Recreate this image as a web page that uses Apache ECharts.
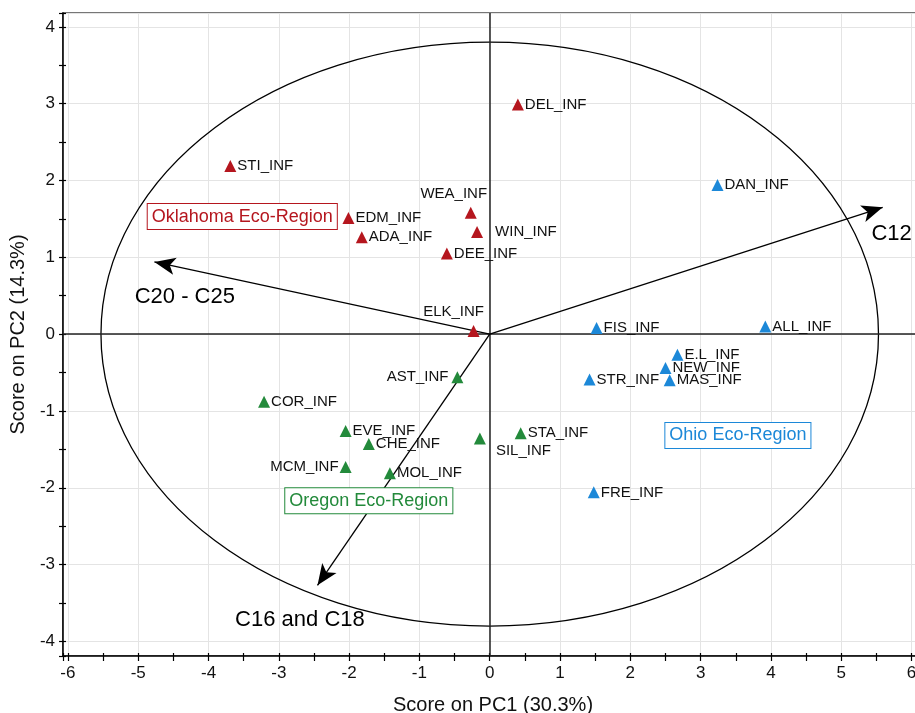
<!DOCTYPE html>
<html><head><meta charset="utf-8">
<script src="https://cdn.jsdelivr.net/npm/echarts@6/dist/echarts.min.js"></script>
<style>html,body{margin:0;padding:0;background:#fff}#c{width:915px;height:713px}</style>
</head><body><div id="c"></div>
<script>
// ---- data ----
const oklahomaNames = ['DEL_INF','STI_INF','EDM_INF','ADA_INF','WEA_INF','WIN_INF','DEE_INF','ELK_INF'];
const oklahomaX = [0.40,-3.69,-2.01,-1.82,-0.27,-0.18,-0.61,-0.23];
const oklahomaY = [2.99,2.19,1.51,1.26,1.58,1.33,1.05,0.04];

const ohioNames = ['DAN_INF','FIS_INF','ALL_INF','E.L_INF','NEW_INF','MAS_INF','STR_INF','FRE_INF'];
const ohioX = [3.24,1.52,3.92,2.67,2.50,2.56,1.42,1.48];
const ohioY = [1.94,0.08,0.10,-0.27,-0.44,-0.60,-0.59,-2.06];

const oregonNames = ['AST_INF','COR_INF','EVE_INF','CHE_INF','MCM_INF','MOL_INF','SIL_INF','STA_INF'];
const oregonX = [-0.46,-3.21,-2.05,-1.72,-2.05,-1.42,-0.14,0.44];
const oregonY = [-0.56,-0.88,-1.26,-1.43,-1.73,-1.81,-1.36,-1.29];

const loadingNames = ['C12','C20 - C25','C16 and C18'];
const loadingX = [5.59,-4.77,-2.45];
const loadingY = [1.65,0.94,-3.27];

const ellipseSemiAxes = [5.53, 3.8];

const xAxisName = 'Score on PC1 (30.3%)';
const yAxisName = 'Score on PC2 (14.3%)';

// ---- layout / style ----
const FONT = 'Liberation Sans, Arial, Helvetica, sans-serif';
const RED = '#B5161E', BLUE = '#1C88D8', GREEN = '#238A3B';

const labelLayout = {
  'WEA_INF': {position:'top', distance:5, offset:[-17,0]},
  'WIN_INF': {position:'right', distance:12},
  'ELK_INF': {position:'top', distance:6, offset:[-20,0]},
  'AST_INF': {position:'left', distance:3},
  'MCM_INF': {position:'left', distance:1},
  'SIL_INF': {position:'right', distance:10, offset:[0,12]}
};

const regionBoxes = [
  {name:'Oklahoma Eco-Region', value:[-3.52,1.53], color:RED},
  {name:'Ohio Eco-Region', value:[3.53,-1.32], color:BLUE},
  {name:'Oregon Eco-Region', value:[-1.72,-2.17], color:GREEN}
];
const loadingLabels = [
  {name:'C12', value:[5.43,1.31], position:'right'},
  {name:'C20 - C25', value:[-5.05,0.49], position:'right'},
  {name:'C16 and C18', value:[-2.70,-3.72], position:'inside'}
];

function pts(names, xs, ys) {
  return names.map((n, i) => {
    const d = {name:n, value:[xs[i], ys[i]]};
    if (labelLayout[n]) d.label = labelLayout[n];
    return d;
  });
}
function groupSeries(names, xs, ys, color) {
  return {
    type:'scatter', symbol:'triangle', symbolSize:12, z:5,
    itemStyle:{color:color, opacity:1},
    label:{show:true, position:'right', distance:1, formatter:'{b}', color:'#111', fontSize:15, fontFamily:FONT},
    data: pts(names, xs, ys)
  };
}

const chart = echarts.init(document.getElementById('c'), null, {renderer:'canvas'});
const intLabel = v => (Math.abs(v - Math.round(v)) < 1e-6 ? String(Math.round(v)) : '');
const X_RANGE = {type:'value', min:-6.07, max:6.163, splitNumber:12, minInterval:1, maxInterval:1};
const Y_RANGE = {type:'value', min:-4.19, max:4.18, splitNumber:8, minInterval:1, maxInterval:1};
const tickStyle = {color:'#000', width:1.2};

chart.setOption({
  animation:false,
  backgroundColor:'#fff',
  grid:{left:63, top:13, width:860, height:643, show:true, borderColor:'#4a4a4a', borderWidth:1.5,
        containLabel:false, outerBoundsMode:'none'},
  xAxis:[Object.assign({}, X_RANGE, {
    position:'bottom',
    name:xAxisName, nameLocation:'middle', nameGap:39,
    nameTextStyle:{fontSize:20, color:'#111', fontFamily:FONT},
    axisLine:{show:true, onZero:false, lineStyle:{color:'#000', width:1.5}},
    axisTick:{show:true, length:5, lineStyle:tickStyle},
    minorTick:{show:true, splitNumber:2, length:5, lineStyle:tickStyle},
    axisLabel:{formatter:intLabel, fontSize:17, color:'#111', margin:9, fontFamily:FONT},
    splitLine:{show:true, lineStyle:{color:'#e4e4e4', width:1}}
  }), Object.assign({}, X_RANGE, {
    position:'bottom', offset:0,
    axisLine:{show:false, onZero:false},
    axisTick:{show:true, inside:true, length:3, lineStyle:tickStyle},
    minorTick:{show:true, splitNumber:2, length:3, lineStyle:tickStyle},
    axisLabel:{show:false}, splitLine:{show:false}
  })],
  yAxis:[Object.assign({}, Y_RANGE, {
    position:'left',
    name:yAxisName, nameLocation:'middle', nameGap:31,
    nameTextStyle:{fontSize:20, color:'#111', fontFamily:FONT},
    axisLine:{show:true, onZero:false, lineStyle:{color:'#000', width:1.5}},
    axisTick:{show:true, length:4, lineStyle:tickStyle},
    minorTick:{show:true, splitNumber:2, length:4, lineStyle:tickStyle},
    axisLabel:{formatter:intLabel, fontSize:17, color:'#111', margin:8, fontFamily:FONT},
    splitLine:{show:true, lineStyle:{color:'#e4e4e4', width:1}}
  }), Object.assign({}, Y_RANGE, {
    position:'left', offset:0,
    axisLine:{show:false, onZero:false},
    axisTick:{show:true, inside:true, length:3, lineStyle:tickStyle},
    minorTick:{show:true, splitNumber:2, length:3, lineStyle:tickStyle},
    axisLabel:{show:false}, splitLine:{show:false}
  })],
  series:[
    { // zero lines
      type:'scatter', data:[], silent:true, z:2,
      markLine:{silent:true, symbol:['none','none'], label:{show:false},
        lineStyle:{color:'#222', width:1.5, type:'solid'},
        data:[{xAxis:0},{yAxis:0}]}
    },
    { // confidence ellipse
      type:'custom', silent:true, z:3, data:[[0,0]],
      renderItem:(params, api) => {
        const c = api.coord([0,0]);
        const s = api.size(ellipseSemiAxes);
        return {type:'ellipse', shape:{cx:c[0], cy:c[1], rx:s[0], ry:s[1]},
          style:{fill:'none', stroke:'#000', lineWidth:1.3}};
      }
    },
    { // loadings arrows
      type:'scatter', data:[], silent:true, z:4,
      markLine:{silent:true, symbol:['none','arrow'], symbolSize:[13,21], label:{show:false},
        lineStyle:{color:'#000', width:1.3, type:'solid', opacity:1},
        itemStyle:{color:'#000', opacity:1},
        data: loadingNames.map((n,i)=>[{coord:[0,0]},{coord:[loadingX[i], loadingY[i]]}])}
    },
    { // loading labels
      type:'scatter', symbolSize:0, silent:true, z:6, itemStyle:{opacity:1},
      label:{show:true, formatter:'{b}', fontSize:22, color:'#000', fontFamily:FONT, distance:0},
      data: loadingLabels.map(d=>({name:d.name, value:d.value, label:{position:d.position}}))
    },
    groupSeries(oklahomaNames, oklahomaX, oklahomaY, RED),
    groupSeries(ohioNames, ohioX, ohioY, BLUE),
    groupSeries(oregonNames, oregonX, oregonY, GREEN),
    { // region boxes
      type:'scatter', symbolSize:0, silent:true, z:7, itemStyle:{opacity:1},
      data: regionBoxes.map(d=>({name:d.name, value:d.value,
        label:{show:true, position:'inside', formatter:'{b}', fontSize:18, fontFamily:FONT,
          color:d.color, backgroundColor:'#fff', borderColor:d.color, borderWidth:1, padding:[4,4,3,4]}}))
    }
  ]
});
</script>
</body></html>
